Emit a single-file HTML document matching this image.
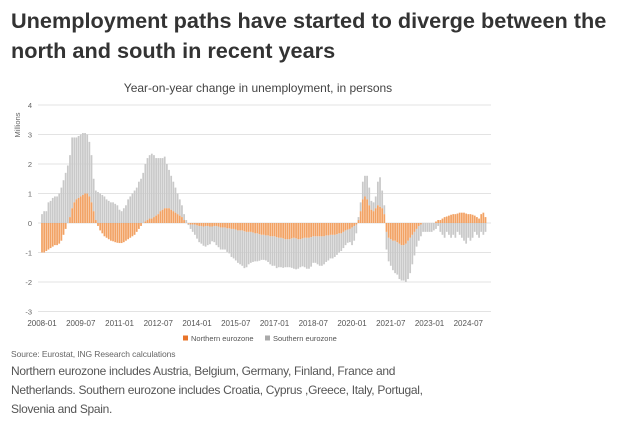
<!DOCTYPE html>
<html><head><meta charset="utf-8"><style>
body{margin:0;width:624px;height:427px;background:#fff;font-family:"Liberation Sans",sans-serif;overflow:hidden;position:relative}
.t{position:absolute;left:11px;top:6px;font-size:21.7px;font-weight:bold;color:#333;line-height:30px;white-space:nowrap}
.src{position:absolute;left:11px;top:349px;font-size:8.5px;color:#666;letter-spacing:-0.1px}
.note{position:absolute;left:11px;top:362px;font-size:12px;letter-spacing:-0.3px;color:#555;line-height:19px;width:610px;white-space:nowrap}
</style></head><body>
<div class="t">Unemployment paths have started to diverge between the<br>north and south in recent years</div>
<svg id="c" width="624" height="427" style="position:absolute;left:0;top:0"></svg>
<div class="src">Source: Eurostat, ING Research calculations</div>
<div class="note">Northern eurozone includes Austria, Belgium, Germany, Finland, France and<br>Netherlands. Southern eurozone includes Croatia, Cyprus ,Greece, Italy, Portugal,<br>Slovenia and Spain.</div>
<script>
const yTicks=[4,3,2,1,0,-1,-2,-3];
const xLabels=["2008-01","2009-07","2011-01","2012-07","2014-01","2015-07","2017-01","2018-07","2020-01","2021-07","2023-01","2024-07"];
const north=[
-1.0,-1.0,-0.95,-0.9,-0.85,-0.8,-0.75,-0.75,-0.7,-0.6,-0.4,-0.2,
0,0.2,0.5,0.7,0.8,0.85,0.9,0.95,1.0,1.0,0.9,0.7,
0.4,0.1,-0.1,-0.25,-0.35,-0.45,-0.5,-0.55,-0.6,-0.62,-0.65,-0.67,
-0.68,-0.68,-0.65,-0.6,-0.55,-0.5,-0.45,-0.4,-0.3,-0.2,-0.1,0,
0.05,0.1,0.15,0.15,0.2,0.25,0.3,0.4,0.45,0.5,0.5,0.5,
0.45,0.4,0.35,0.3,0.25,0.2,0.1,0,-0.02,-0.05,-0.05,-0.05,
-0.08,-0.1,-0.1,-0.12,-0.1,-0.1,-0.12,-0.12,-0.1,-0.1,-0.12,-0.15,
-0.15,-0.15,-0.18,-0.18,-0.2,-0.2,-0.22,-0.25,-0.25,-0.25,-0.28,-0.3,
-0.3,-0.3,-0.32,-0.35,-0.35,-0.38,-0.4,-0.4,-0.42,-0.42,-0.45,-0.45,
-0.45,-0.48,-0.5,-0.5,-0.52,-0.55,-0.55,-0.55,-0.52,-0.5,-0.52,-0.55,
-0.55,-0.52,-0.5,-0.5,-0.5,-0.48,-0.45,-0.45,-0.45,-0.45,-0.45,-0.45,
-0.42,-0.42,-0.4,-0.4,-0.4,-0.38,-0.35,-0.35,-0.3,-0.25,-0.22,-0.2,
-0.15,-0.1,-0.05,0.1,0.4,0.8,0.9,0.8,0.6,0.45,0.4,0.5,
0.6,0.55,0.5,0.3,-0.3,-0.5,-0.55,-0.6,-0.6,-0.65,-0.7,-0.75,
-0.75,-0.7,-0.6,-0.5,-0.4,-0.3,-0.2,-0.1,-0.05,0,0,0,
0,0,0,0.05,0.1,0.1,0.15,0.2,0.22,0.25,0.28,0.3,
0.3,0.32,0.35,0.35,0.35,0.32,0.3,0.3,0.28,0.25,0.2,0.15,
0.3,0.35,0.2];
const south=[
0.3,0.4,0.4,0.7,0.75,0.85,0.9,0.9,1.0,1.2,1.45,1.7,
1.95,2.1,2.4,2.2,2.1,2.1,2.1,2.1,2.05,2.0,1.85,1.6,
1.1,1.0,1.05,1.0,0.95,0.9,0.8,0.75,0.7,0.7,0.65,0.6,
0.45,0.4,0.5,0.6,0.8,0.9,1.0,1.1,1.2,1.4,1.5,1.7,
1.95,2.1,2.15,2.2,2.1,1.95,1.9,1.8,1.75,1.75,1.5,1.3,
1.15,1.0,0.85,0.7,0.55,0.4,0.2,0.1,-0.05,-0.15,-0.25,-0.35,
-0.45,-0.55,-0.6,-0.65,-0.7,-0.65,-0.6,-0.5,-0.55,-0.65,-0.7,-0.75,
-0.75,-0.75,-0.8,-0.85,-0.95,-1.0,-1.05,-1.1,-1.15,-1.2,-1.25,-1.2,
-1.1,-1.05,-1.0,-0.95,-0.95,-0.9,-0.85,-0.85,-0.85,-0.9,-0.95,-1.0,
-1.0,-1.05,-1.0,-1.0,-1.0,-0.95,-0.95,-0.95,-1.0,-1.05,-1.05,-1.0,
-0.95,-0.95,-1.0,-1.05,-1.05,-1.0,-0.9,-0.9,-0.95,-1.0,-1.0,-0.95,
-0.9,-0.85,-0.8,-0.8,-0.75,-0.7,-0.65,-0.6,-0.55,-0.5,-0.45,-0.45,
-0.6,-0.5,-0.3,0.1,0.3,0.6,0.7,0.8,0.6,0.3,0.3,0.4,
0.8,1.0,0.6,0.3,-0.6,-0.8,-0.9,-1.0,-1.1,-1.1,-1.2,-1.2,
-1.2,-1.3,-1.3,-1.2,-1.0,-0.8,-0.6,-0.5,-0.4,-0.3,-0.3,-0.3,
-0.3,-0.3,-0.25,-0.2,-0.1,-0.3,-0.4,-0.5,-0.3,-0.4,-0.5,-0.4,
-0.5,-0.3,-0.4,-0.5,-0.6,-0.7,-0.5,-0.6,-0.5,-0.3,-0.4,-0.5,
-0.3,-0.4,-0.3];
const NS="http://www.w3.org/2000/svg";
const svg=document.getElementById('c');
const X0=42,PXM=2.153,Y0=223,PXU=29.5,XR=491;
const xs=m=>X0+PXM*m;
const ys=v=>Y0-v*PXU;
function mk(t,a){const e=document.createElementNS(NS,t);for(const k in a)e.setAttribute(k,a[k]);svg.appendChild(e);return e;}
let st=mk('text',{x:258,y:92,'text-anchor':'middle','font-size':12,fill:'#444'});st.textContent='Year-on-year change in unemployment, in persons';


let ml=mk('text',{x:20,y:125,'font-size':7.5,fill:'#666',transform:'rotate(-90 20 125)','text-anchor':'middle'});ml.textContent='Millions';


yTicks.forEach(v=>{
  const g=mk('line',{x1:X0-4,x2:XR,y1:ys(v),y2:ys(v),stroke:'#e3e3e3','stroke-width':1});
  
  
  const t=mk('text',{x:32,y:ys(v)+3,'text-anchor':'end','font-size':7.5,fill:'#666'});t.textContent=v;
  
  
});
xLabels.forEach((l,i)=>{
  const t=mk('text',{x:xs(i*18),y:326,'text-anchor':'middle','font-size':8,fill:'#555'});t.textContent=l;
  
  
});
const W=1.75;
north.forEach((n,m)=>{
  const s=south[m];
  const x=xs(m)-W/2;
  let base=0;
  if((n>=0&&s>=0)||(n<0&&s<0))base=n;
  const r=mk('rect',{x:x,y:Math.min(ys(base),ys(base+s)),width:W,height:Math.abs(s)*PXU,fill:'#c9c9c9'});
  
  
  const o=mk('rect',{x:x,y:Math.min(ys(0),ys(n)),width:W,height:Math.abs(n)*PXU,fill:'#f2a264'});
  
  
});
const l1=mk('rect',{x:183,y:335.5,width:5,height:5,fill:'#e8742a'});


let lt1=mk('text',{x:191,y:341,'font-size':7.5,fill:'#555'});lt1.textContent='Northern eurozone';


const l2=mk('rect',{x:265,y:335.5,width:5,height:5,fill:'#aaa'});


let lt2=mk('text',{x:273,y:341,'font-size':7.5,fill:'#555'});lt2.textContent='Southern eurozone';


</script>
</body></html>
